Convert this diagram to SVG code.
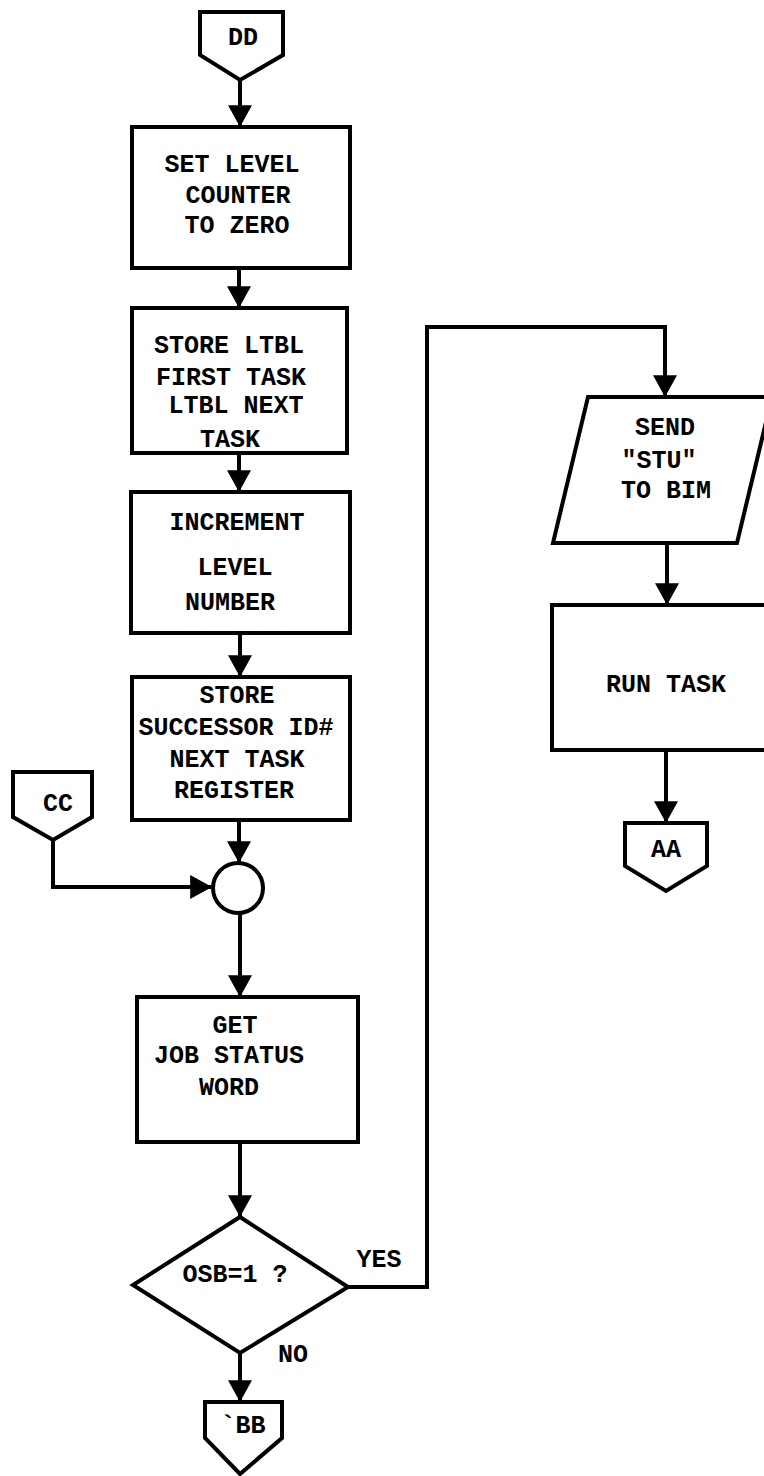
<svg xmlns="http://www.w3.org/2000/svg" width="764" height="1476" viewBox="0 0 764 1476">
  <style>
    .shape { fill: #ffffff; stroke: #000000; stroke-width: 4; stroke-linejoin: miter; }
    .line { fill: none; stroke: #000000; stroke-width: 4; }
    .arrow { marker-end: url(#head); }
    text { font-family: "Liberation Mono", "DejaVu Sans Mono", monospace; font-weight: bold; font-size: 25px; fill: #000000; text-anchor: middle; }
  </style>
  <defs>
    <marker id="head" markerUnits="userSpaceOnUse" markerWidth="24" markerHeight="24" viewBox="0 0 20 22" refX="20" refY="11" orient="auto">
      <path d="M0,0 L20,11 L0,22 Z" fill="#000000"/>
    </marker>
  </defs>

  <rect x="0" y="0" width="764" height="1476" fill="#ffffff"/>

  <!-- connectors -->
  <g id="connectors">
    <line class="line arrow" x1="240" y1="80" x2="240" y2="127"/>
    <line class="line arrow" x1="239" y1="268" x2="239" y2="308"/>
    <line class="line arrow" x1="239" y1="453" x2="239" y2="492"/>
    <line class="line arrow" x1="240" y1="633" x2="240" y2="677"/>
    <line class="line arrow" x1="239" y1="820" x2="239" y2="863"/>
    <polyline class="line arrow" points="53,840 53,887 212,887"/>
    <line class="line arrow" x1="240" y1="913" x2="240" y2="997"/>
    <line class="line arrow" x1="240" y1="1142" x2="240" y2="1217"/>
    <line class="line arrow" x1="240" y1="1353" x2="240" y2="1402"/>
    <polyline class="line arrow" points="348,1287 427,1287 427,327 665,327 665,397"/>
    <line class="line arrow" x1="667" y1="543" x2="667" y2="605"/>
    <line class="line arrow" x1="666" y1="750" x2="666" y2="823"/>
  </g>

  <!-- off-page connector DD -->
  <g id="conn-dd">
    <polygon class="shape" points="200,12 283,12 283,55 240,80 200,55"/>
    <text x="243" y="45">DD</text>
  </g>

  <g id="set-level">
    <rect class="shape" x="132" y="127" width="218" height="141"/>
    <text x="232" y="172">SET LEVEL</text>
    <text x="238" y="203">COUNTER</text>
    <text x="237" y="233">TO ZERO</text>
  </g>

  <g id="store-ltbl">
    <rect class="shape" x="132" y="308" width="215" height="145"/>
    <text x="229" y="353">STORE LTBL</text>
    <text x="231" y="385">FIRST TASK</text>
    <text x="236" y="413">LTBL NEXT</text>
    <text x="230" y="447">TASK</text>
  </g>

  <g id="increment">
    <rect class="shape" x="131" y="492" width="219" height="141"/>
    <text x="237" y="530">INCREMENT</text>
    <text x="235" y="575">LEVEL</text>
    <text x="230" y="610">NUMBER</text>
  </g>

  <g id="store-successor">
    <rect class="shape" x="132" y="677" width="218" height="143"/>
    <text x="237" y="703">STORE</text>
    <text x="236" y="735">SUCCESSOR ID#</text>
    <text x="237" y="767">NEXT TASK</text>
    <text x="234" y="798">REGISTER</text>
  </g>

  <!-- off-page connector CC -->
  <g id="conn-cc">
    <polygon class="shape" points="13,772 92,772 92,817 53,840 13,817"/>
    <text x="58" y="811">CC</text>
  </g>

  <!-- junction -->
  <g id="junction">
    <circle class="shape" cx="238" cy="888" r="25"/>
  </g>

  <g id="get-status">
    <rect class="shape" x="137" y="997" width="221" height="145"/>
    <text x="235" y="1033">GET</text>
    <text x="229" y="1063">JOB STATUS</text>
    <text x="229" y="1095">WORD</text>
  </g>

  <g id="decision">
    <polygon class="shape" points="240,1217 348,1287 240,1353 133,1285"/>
    <text x="235" y="1282">OSB=1 ?</text>
    <text x="379" y="1267">YES</text>
    <text x="293" y="1362">NO</text>
  </g>

  <!-- off-page connector BB -->
  <g id="conn-bb">
    <polygon class="shape" points="205,1402 282,1402 282,1438 240,1474 205,1438"/>
    <text x="243" y="1433">`BB</text>
  </g>

  <!-- output to BIM -->
  <g id="send-stu">
    <polygon class="shape" points="588,397 772,397 737,543 553,543"/>
    <text x="665" y="435">SEND</text>
    <text x="659" y="468">"STU"</text>
    <text x="666" y="498">TO BIM</text>
  </g>

  <g id="run-task">
    <rect class="shape" x="552" y="605" width="240" height="145"/>
    <text x="666" y="692">RUN TASK</text>
  </g>

  <!-- off-page connector AA -->
  <g id="conn-aa">
    <polygon class="shape" points="625,823 707,823 707,866 666,891 625,866"/>
    <text x="666" y="857">AA</text>
  </g>
</svg>
